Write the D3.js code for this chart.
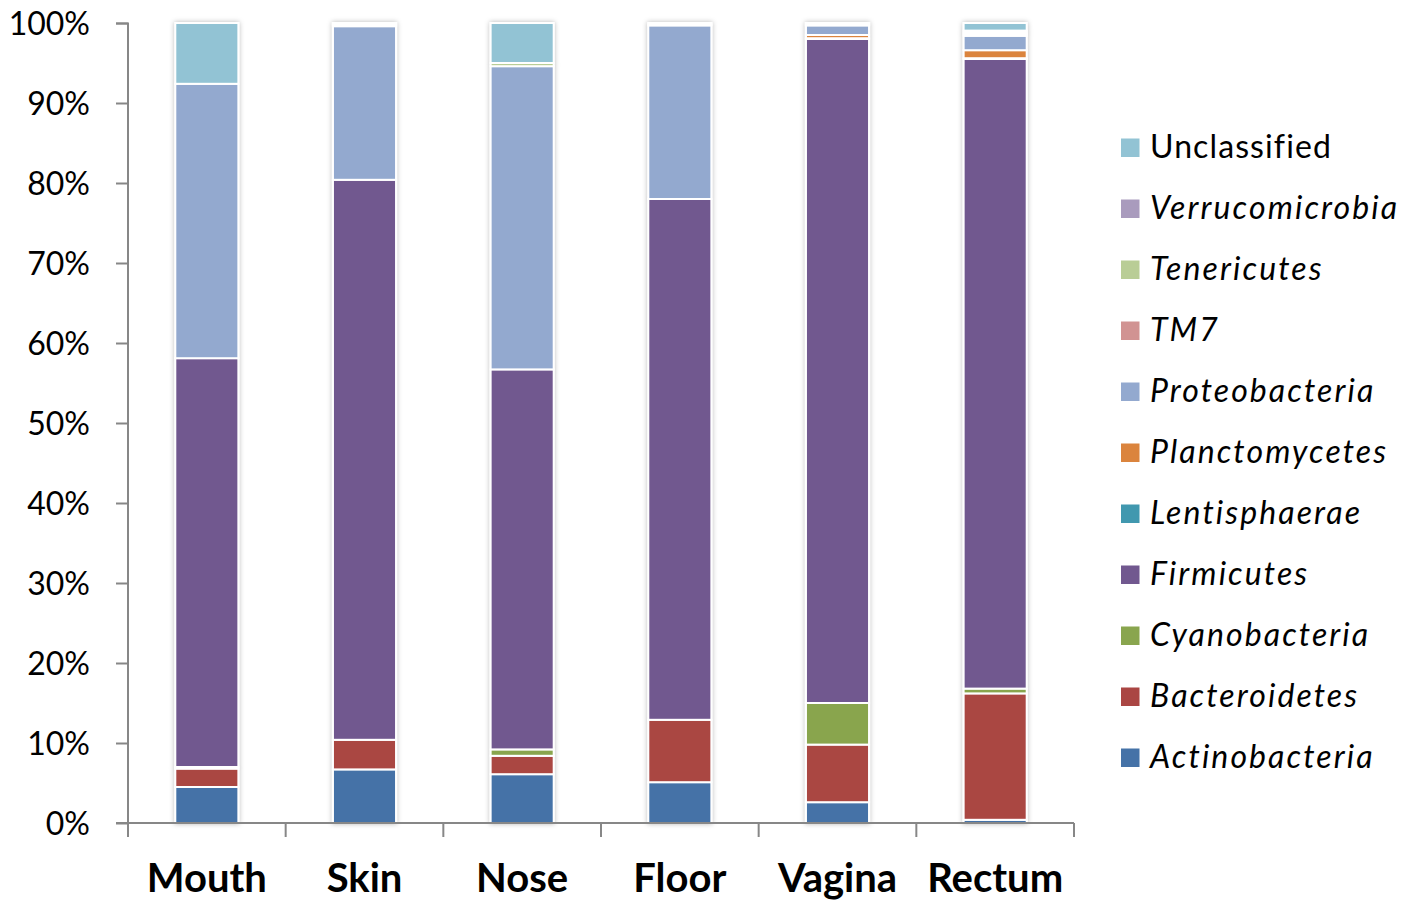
<!DOCTYPE html>
<html><head><meta charset="utf-8">
<script src="https://cdn.jsdelivr.net/npm/d3@7/dist/d3.min.js"></script>
<style>
html,body{margin:0;padding:0;background:#fff;}
svg text{font-family:Lato,"Open Sans",sans-serif;fill:#000;}
</style></head>
<body>
<svg id="chart" width="1408" height="902"></svg>
<script>
const categories = ["Mouth","Skin","Nose","Floor","Vagina","Rectum"];
const seriesNames = ["Actinobacteria","Bacteroidetes","Cyanobacteria","Firmicutes","Lentisphaerae","Planctomycetes","Proteobacteria","TM7","Tenericutes","Verrucomicrobia","Unclassified"];
const seriesColors = ["#4572A7","#AA4643","#89A54E","#71588F","#4198AF","#DB843D","#93A9CF","#D19392","#B9CD96","#A99BBD","#92C3D4"];
// percent values per category, in category order
const actinobacteria  = [4.5, 6.7, 6.1, 5.1, 2.6, 0.4];
const bacteroidetes   = [2.3, 3.7, 2.3, 7.8, 7.2, 15.8];
const cyanobacteria   = [0.2, 0, 0.8, 0, 5.2, 0.6];
const firmicutes      = [51.1, 70.0, 47.5, 65.1, 83.0, 78.7];
const lentisphaerae   = [0, 0, 0, 0, 0.1, 0.1];
const planctomycetes  = [0, 0, 0, 0, 0.4, 1.0];
const proteobacteria  = [34.3, 19.2, 37.9, 21.7, 1.2, 1.8];
const tm7             = [0, 0, 0, 0, 0, 0.2];
const tenericutes     = [0, 0.15, 0.4, 0, 0, 0.2];
const verrucomicrobia = [0, 0.1, 0, 0.15, 0.1, 0.25];
const unclassified    = [7.6, 0.15, 5.0, 0.15, 0.2, 0.95];
const yTicks = [0,10,20,30,40,50,60,70,80,90,100];

const seriesValues = [actinobacteria,bacteroidetes,cyanobacteria,firmicutes,lentisphaerae,planctomycetes,proteobacteria,tm7,tenericutes,verrucomicrobia,unclassified];
const italicSeries = seriesNames.map(n => n !== "Unclassified");

const table = categories.map((c,i) => {
  const row = {category:c};
  seriesNames.forEach((s,j) => row[s] = seriesValues[j][i]);
  return row;
});

const svg = d3.select("#chart");
const defs = svg.append("defs");
const f = defs.append("filter").attr("id","shadow").attr("x","-30%").attr("y","-5%").attr("width","160%").attr("height","110%");
f.append("feGaussianBlur").attr("in","SourceAlpha").attr("stdDeviation",2.5).attr("result","blur");
f.append("feFlood").attr("flood-color","#000").attr("flood-opacity",0.28);
f.append("feComposite").attr("in2","blur").attr("operator","in").attr("result","sh");
const m = f.append("feMerge");
m.append("feMergeNode").attr("in","sh");
m.append("feMergeNode").attr("in","SourceGraphic");

const x = d3.scaleBand().domain(categories).range([128,1074]).paddingInner(0.6).paddingOuter(0.3);
const y = d3.scaleLinear().domain([0,100]).range([823,23]);
const color = d3.scaleOrdinal().domain(seriesNames).range(seriesColors);

const stack = d3.stack().keys(seriesNames)(table);

// bars
const barG = svg.append("g");
categories.forEach((c,ci) => {
  const g = barG.append("g").attr("filter","url(#shadow)");
  stack.forEach(layer => {
    const d = layer[ci];
    if (d[1]-d[0] <= 0) return;
    g.append("rect")
      .attr("x", x(c))
      .attr("width", x.bandwidth())
      .attr("y", y(d[1]))
      .attr("height", y(d[0]) - y(d[1]))
      .attr("fill", color(layer.key))
      .attr("stroke","#fff")
      .attr("stroke-width",2);
  });
});

const axisColor = "#878787";
// y axis
const yAxis = svg.append("g").attr("transform","translate(128,0)")
  .call(d3.axisLeft(y).tickValues(yTicks).tickFormat(d => d + "%").tickSize(12).tickPadding(26));
yAxis.select(".domain").attr("stroke",axisColor).attr("stroke-width",2).attr("d","M-12,23.5H0V837");
yAxis.selectAll(".tick line").attr("stroke",axisColor).attr("stroke-width",2);
yAxis.selectAll(".tick text").attr("font-size",32).attr("dy","0.35em").style("font-family","Lato");

// x axis
const xAxis = svg.append("g").attr("transform","translate(0,823)")
  .call(d3.axisBottom(x).tickSize(0).tickPadding(0));
xAxis.select(".domain").attr("stroke",axisColor).attr("stroke-width",2).attr("d","M116,0H1074");
xAxis.selectAll(".tick text").attr("font-size",40).attr("font-weight","bold").attr("y",69).attr("dy",0).style("font-family","Lato");
const bounds = d3.range(categories.length + 1).map(i => x.range()[0] + i * x.step());
xAxis.selectAll(".bound").data(bounds.slice(1)).join("line").attr("class","bound")
  .attr("x1",d=>d).attr("x2",d=>d).attr("y1",0).attr("y2",14)
  .attr("stroke",axisColor).attr("stroke-width",2);

// legend (top = last series)
const legendOrder = seriesNames.slice().reverse();
const lg = svg.append("g");
const ly = d3.scalePoint().domain(legendOrder).range([148, 758]);
legendOrder.forEach(s => {
  const cy = ly(s);
  const it = italicSeries[seriesNames.indexOf(s)];
  lg.append("rect").attr("x",1121).attr("y",cy-9.5).attr("width",18.5).attr("height",18.5).attr("fill",color(s));
  lg.append("text").attr("x",1150).attr("y",cy+9.5)
    .attr("font-size",32)
    .attr("font-style", it ? "italic" : "normal")
    .attr("letter-spacing", it ? 2.1 : 1.1)
    .text(s);
});
</script>
</body></html>
